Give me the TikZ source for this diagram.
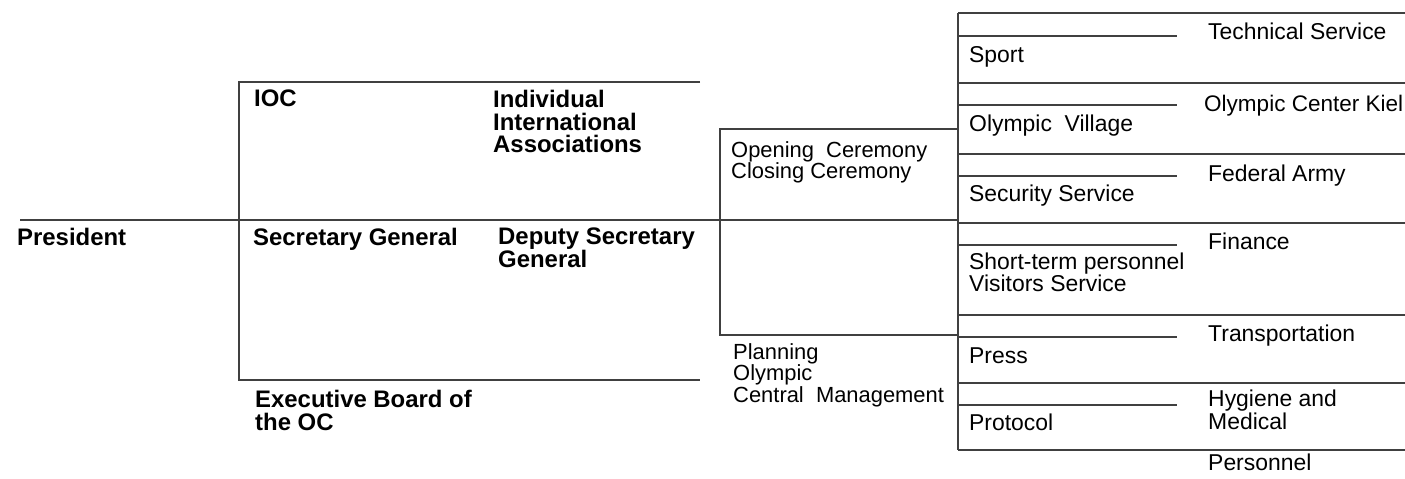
\documentclass[tikz,border=0pt]{standalone}
\usepackage{fontspec}
\setmainfont{Liberation Sans}
\begin{document}
% Multi-line labels are placed by the baseline of their last line.
\begin{tikzpicture}[x=1bp,y=-1bp,
  rule/.style={line width=1.2bp, draw=black!75},
  headlbl/.style={anchor=base west, inner sep=0pt, align=left,
    font=\fontsize{24}{23}\selectfont\bfseries},
  unitlbl/.style={anchor=base west, inner sep=0pt, align=left,
    font=\fontsize{22}{22}\selectfont},
  sidelbl/.style={anchor=base west, inner sep=0pt, align=left,
    font=\fontsize{23}{21.5}\selectfont}]
\useasboundingbox (0,0) rectangle (1405,479);

% --- frame coordinates ---
\coordinate (trunkL) at (20,220);
\coordinate (trunkR) at (958,220);
\coordinate (boxTL) at (239,82);
\coordinate (boxTR) at (700,82);
\coordinate (boxBL) at (239,380);
\coordinate (boxBR) at (700,380);
\coordinate (midTL) at (720,129);
\coordinate (midTR) at (958,129);
\coordinate (midBL) at (720,335);
\coordinate (midBR) at (958,335);
\coordinate (spineT) at (958,13);
\coordinate (spineB) at (958,450);

% main trunk and left bracket
\draw[rule] (trunkL) -- (trunkR);
\draw[rule] (boxTR) -- (boxTL) -- (boxBL) -- (boxBR);
% middle bracket
\draw[rule] (midTR) -- (midTL) -- (midBL) -- (midBR);
% right spine
\draw[rule] (spineT) -- (spineB);

% department rows: full rules and short rules
\foreach \y [count=\i] in {13,83,154,223,315,383,450}{
  \coordinate (fullA\i) at (958,\y);
  \coordinate (fullB\i) at (1405,\y);
  \draw[rule] (fullA\i) -- (fullB\i);
}
\foreach \y [count=\i] in {36,105,176,245,337,405}{
  \coordinate (shortA\i) at (958,\y);
  \coordinate (shortB\i) at (1177,\y);
  \draw[rule] (shortA\i) -- (shortB\i);
}

% --- bold headings ---
\node[headlbl] (pres) at (17,246) {President};
\node[headlbl] (ioc) at (254,107) {IOC};
\node[headlbl] (iia) at (493,153) {Individual\\International\\Associations};
\node[headlbl] (secgen) at (253,246) {Secretary General};
\node[headlbl, font=\fontsize{24}{22}\selectfont\bfseries] (depsec) at (498,268) {Deputy Secretary\\General};
\node[headlbl] (exec) at (255,430) {Executive Board of\\the OC};

% --- middle units ---
\node[unitlbl] (cerem) at (731,179) {Opening~~Ceremony\\Closing Ceremony};
\node[unitlbl, font=\fontsize{22}{19.5}\selectfont] (plan) at (733,402) {Planning\\Olympic\\Central~~Management};

% --- right column, inner units ---
\node[sidelbl] (sport) at (969,63) {Sport};
\node[sidelbl] (village) at (969,132) {Olympic~~Village};
\node[sidelbl] (security) at (969,202) {Security Service};
\node[sidelbl] (visitors) at (969,291) {Short-term personnel\\Visitors Service};
\node[sidelbl] (press) at (969,363) {Press};
\node[sidelbl] (protocol) at (969,430) {Protocol};

% --- right column, outer units ---
\node[sidelbl] (tech) at (1208,40) {Technical Service};
\node[sidelbl, font=\fontsize{22.6}{21.5}\selectfont] (kiel) at (1204,112) {Olympic Center Kiel};
\node[sidelbl] (army) at (1208,182) {Federal Army};
\node[sidelbl] (finance) at (1208,250) {Finance};
\node[sidelbl] (transport) at (1208,341) {Transportation};
\node[sidelbl, font=\fontsize{23}{19.5}\selectfont] (hygiene) at (1208,429) {Hygiene and\\Medical};
\node[sidelbl] (personnel) at (1208,470) {Personnel};
\end{tikzpicture}
\end{document}
